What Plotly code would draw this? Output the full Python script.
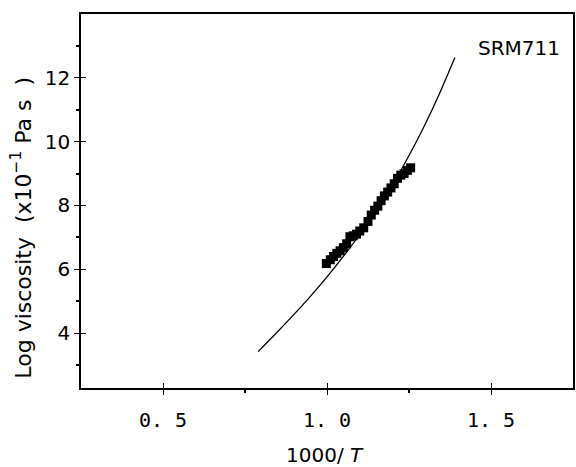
import plotly.graph_objects as go

# fitted curve
curve_x = [0.79, 0.85, 0.94, 1.0, 1.06, 1.12, 1.18, 1.23, 1.27, 1.30, 1.34, 1.39]
curve_y = [3.42, 4.05, 5.04, 5.76, 6.54, 7.38, 8.31, 9.19, 9.95, 10.56, 11.44, 12.64]

# measured data (SRM711)
data_x = [0.998, 1.01, 1.02, 1.03, 1.04, 1.05, 1.06, 1.07, 1.08, 1.09, 1.10, 1.112,
          1.125, 1.135, 1.145, 1.155, 1.165, 1.175, 1.185, 1.195, 1.205, 1.215,
          1.225, 1.235, 1.245, 1.255]
data_y = [6.18, 6.3, 6.4, 6.5, 6.58, 6.68, 6.8, 7.02, 7.05, 7.1, 7.2, 7.3,
          7.5, 7.7, 7.85, 7.98, 8.15, 8.3, 8.42, 8.55, 8.68, 8.85,
          8.95, 9.0, 9.1, 9.18]

x_major = [0.5, 1.0, 1.5]
x_major_text = ["0. 5", "1. 0", "1. 5"]
x_minor = [0.75, 1.25]
y_major = [4, 6, 8, 10, 12]
y_minor = [3, 5, 7, 9, 11, 13]

x_range = [0.25, 1.75]
y_range = [2.28, 14.0]

fig = go.Figure()
fig.add_trace(go.Scatter(x=curve_x, y=curve_y, mode="lines",
                         line=dict(color="black", width=1.3, shape="spline",
                                   smoothing=0.8),
                         showlegend=False, hoverinfo="skip"))
fig.add_trace(go.Scatter(x=data_x, y=data_y, mode="markers",
                         marker=dict(symbol="square", size=9, color="black"),
                         showlegend=False))
# invisible trace to carry the inner-tick axes
fig.add_trace(go.Scatter(x=[x_range[0]], y=[y_range[0]], xaxis="x2", yaxis="y2",
                         mode="markers", marker=dict(opacity=0),
                         showlegend=False, hoverinfo="skip"))

fig.update_layout(
    width=576, height=467,
    margin=dict(l=81, r=1, t=14, b=79),
    paper_bgcolor="white", plot_bgcolor="white",
    xaxis=dict(range=x_range, showgrid=False, zeroline=False,
               showline=True, mirror=True, linecolor="black", linewidth=1.5,
               tickvals=x_major, ticktext=x_major_text, ticks="outside",
               ticklen=5, tickwidth=1.2, tickcolor="black",
               ticklabelstandoff=8,
               tickfont=dict(family="DejaVu Sans Mono", size=20, color="black"),
               minor=dict(tickvals=x_minor, ticks="outside", ticklen=3,
                          tickwidth=1.5, tickcolor="black")),
    yaxis=dict(range=y_range, showgrid=False, zeroline=False,
               showline=True, mirror=True, linecolor="black", linewidth=1.5,
               tickvals=y_major, ticks="outside", ticklen=5, tickwidth=1.2,
               tickcolor="black",
               tickfont=dict(family="DejaVu Sans", size=20, color="black"),
               minor=dict(tickvals=y_minor, ticks="outside", ticklen=3,
                          tickwidth=1.5, tickcolor="black")),
    xaxis2=dict(range=x_range, overlaying="x", showgrid=False, zeroline=False,
                showline=False, tickvals=x_major, ticks="inside", ticklen=5,
                tickwidth=1.2, tickcolor="black", showticklabels=False),
    yaxis2=dict(range=y_range, overlaying="y", showgrid=False, zeroline=False,
                showline=False, tickvals=y_major, ticks="inside", ticklen=5,
                tickwidth=1.2, tickcolor="black", showticklabels=False),
    annotations=[
        dict(text="Log viscosity  (x10<sup>−1</sup> Pa s  )", textangle=-90,
             xref="paper", yref="paper", x=-0.121, y=0.43,
             xanchor="center", yanchor="middle", showarrow=False,
             font=dict(family="DejaVu Sans", size=22, color="black")),
        dict(text="1000/ <i>T</i>", xref="paper", yref="paper",
             x=0.495, y=-0.18, xanchor="center", yanchor="middle",
             showarrow=False,
             font=dict(family="DejaVu Sans", size=20, color="black")),
        dict(text="SRM711", xref="paper", yref="paper",
             x=0.978, y=0.908, xanchor="right", yanchor="middle",
             showarrow=False,
             font=dict(family="DejaVu Sans", size=20, color="black")),
    ],
)

fig.write_html("out.html")
